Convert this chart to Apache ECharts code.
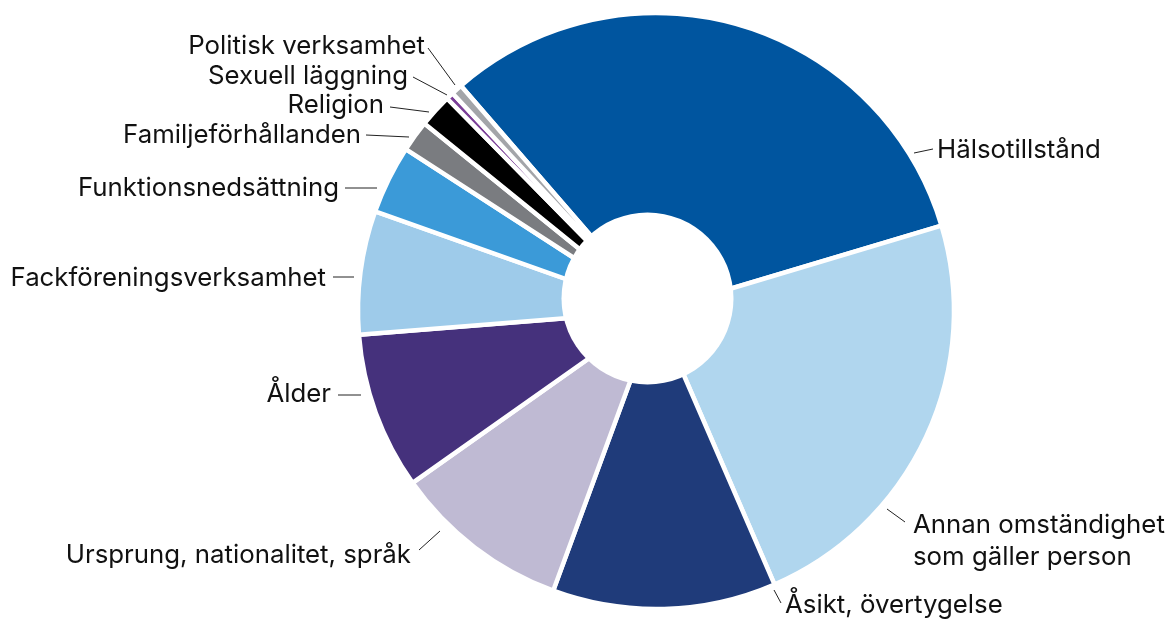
<!DOCTYPE html>
<html>
<head>
<meta charset="utf-8">
<script src="https://cdn.jsdelivr.net/npm/echarts@6/dist/echarts.min.js"></script>
<style>
html,body{margin:0;padding:0;background:#fff;}
#chart{width:1169px;height:626px;}
</style>
</head>
<body>
<div id="chart"></div>
<script>
// Data (share of cases, %)
const categories = [
  'Hälsotillstånd',
  'Annan omständighet\nsom gäller person',
  'Åsikt, övertygelse',
  'Ursprung, nationalitet, språk',
  'Ålder',
  'Fackföreningsverksamhet',
  'Funktionsnedsättning',
  'Familjeförhållanden',
  'Religion',
  'Sexuell läggning',
  'Politisk verksamhet'
];
const values = [31.7, 23.1, 12.1, 9.6, 8.5, 6.7, 3.7, 1.7, 1.8, 0.4, 0.6];
const colors = ['#00559f', '#b0d6ee', '#1f3b7a', '#bfbad3', '#45317c', '#9ecbea', '#3b9ad8', '#7a7c80', '#000000', '#7b3f98', '#a3a5a9'];

// Label layout only (text anchor and guide-line segment, canvas px)
const labelLayoutSpec = [
  {x: 937, y: 150, align: 'left',  line: [[933, 149], [914, 153]]},
  {x: 913, y: 541, align: 'left',  line: [[905, 522], [887, 509]]},
  {x: 785, y: 605, align: 'left',  line: [[781, 603], [774, 590]]},
  {x: 411, y: 555, align: 'right', line: [[419, 550], [440, 531]]},
  {x: 331, y: 394, align: 'right', line: [[338, 395], [361, 395]]},
  {x: 326, y: 278, align: 'right', line: [[333, 277], [354, 277]]},
  {x: 339, y: 188, align: 'right', line: [[345, 188], [377, 188]]},
  {x: 361, y: 135, align: 'right', line: [[366, 135], [409, 137]]},
  {x: 384, y: 105, align: 'right', line: [[390, 107], [429, 112]]},
  {x: 408, y: 76,  align: 'right', line: [[413, 77], [447, 95]]},
  {x: 425, y: 46,  align: 'right', line: [[428, 48], [455, 85]]}
];

const chart = echarts.init(document.getElementById('chart'), null, {renderer: 'canvas'});
chart.setOption({
  animation: false,
  backgroundColor: '#ffffff',
  series: [{
    type: 'pie',
    center: [656, 311],
    radius: [0, 298],
    startAngle: 130.9,
    clockwise: true,
    avoidLabelOverlap: false,
    itemStyle: {borderColor: '#ffffff', borderWidth: 4.5},
    label: {
      show: true,
      position: 'outside',
      color: '#111111',
      fontFamily: 'Inter',
      fontSize: 25.8,
      lineHeight: 32
    },
    labelLine: {show: true, length: 0, length2: 0, lineStyle: {color: '#222222', width: 1}},
    labelLayout: function (params) {
      const a = labelLayoutSpec[params.dataIndex];
      return {x: a.x, y: a.y, align: a.align, verticalAlign: 'middle', labelLinePoints: a.line};
    },
    emphasis: {disabled: true},
    data: categories.map((c, i) => ({name: c, value: values[i], itemStyle: {color: colors[i]}}))
  }],
  graphic: [{
    type: 'circle',
    shape: {cx: 647.5, cy: 298.5, r: 86},
    style: {fill: '#ffffff'},
    z: 10,
    silent: true
  }]
});
</script>
</body>
</html>
